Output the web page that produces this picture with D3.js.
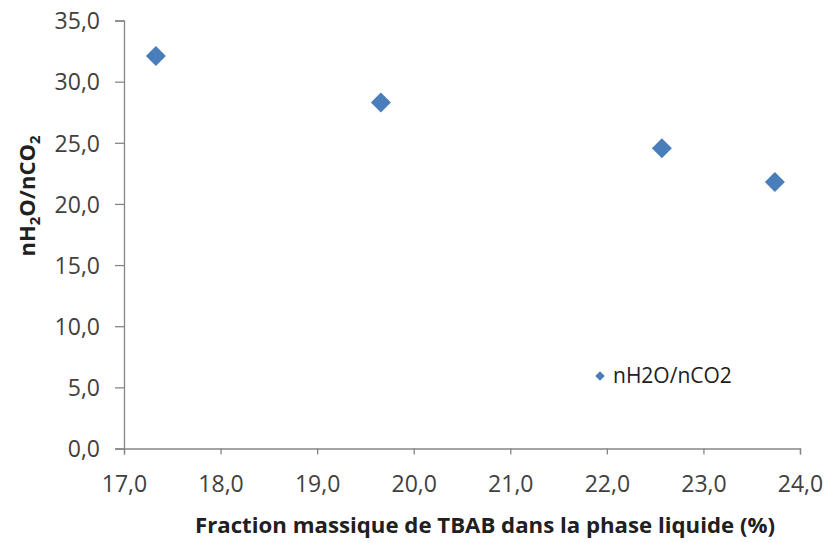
<!DOCTYPE html>
<html><head><meta charset="utf-8">
<script src="https://cdn.jsdelivr.net/npm/d3@7"></script>
<style>body{margin:0;background:#fff}svg{display:block}</style>
</head><body>
<script>
const xValues = [17.33, 19.66, 22.57, 23.74];
const yValues = [32.1, 28.3, 24.55, 21.8];
const seriesName = "nH2O/nCO2";
const xTicks = [17, 18, 19, 20, 21, 22, 23, 24];
const yTicks = [0, 5, 10, 15, 20, 25, 30, 35];
const xTitle = "Fraction massique  de TBAB dans la phase liquide (%)";

const W = 829, H = 543;
const svg = d3.select("body").append("svg").attr("width", W).attr("height", H);
const font = "'Open Sans', sans-serif";
const x = d3.scaleLinear().domain([17, 24]).range([124, 800]);
const y = d3.scaleLinear().domain([0, 35]).range([448.5, 20.5]);
const fmt = d => d.toFixed(1).replace(".", ",");

const gx = svg.append("g").attr("transform", `translate(0,${y(0)})`)
  .call(d3.axisBottom(x).tickValues(xTicks).tickFormat(fmt).tickSize(6).tickPadding(21));
const gy = svg.append("g").attr("transform", `translate(${x(17)},0)`)
  .call(d3.axisLeft(y).tickValues(yTicks).tickFormat(fmt).tickSize(9).tickPadding(15));
[gx, gy].forEach(g => {
  g.selectAll("path,line").attr("stroke", "#868686").attr("stroke-width", 1.3);
  g.selectAll("text").attr("fill", "#404040").style("font-family", font).style("font-size", "23px");
});
gy.selectAll("text").attr("dy", "0.36em");

svg.append("g").selectAll("path").data(xValues).join("path")
  .attr("transform", (d, i) => `translate(${x(d)},${y(yValues[i])}) rotate(45)`)
  .attr("d", d3.symbol().type(d3.symbolSquare).size(200))
  .attr("fill", "#4a7ebb");

// legend
svg.append("path").attr("transform", "translate(600,376) rotate(45)")
  .attr("d", d3.symbol().type(d3.symbolSquare).size(45)).attr("fill", "#4a7ebb");
svg.append("text").attr("x", 613).attr("y", 383).text(seriesName)
  .attr("fill", "#202020").style("font-family", font).style("font-size", "21px");

// axis titles
svg.append("text").attr("x", 485).attr("y", 533).attr("text-anchor", "middle")
  .attr("textLength", 580).attr("lengthAdjust", "spacingAndGlyphs")
  .style("font-family", font).style("font-size", "21px").style("font-weight", "bold")
  .attr("fill", "#202020").text(xTitle);
const yt = svg.append("text").attr("transform", "translate(35,196) rotate(-90)")
  .attr("text-anchor", "middle").style("font-family", font).style("font-size", "22px")
  .style("font-weight", "bold").attr("fill", "#202020");
yt.append("tspan").text("nH");
yt.append("tspan").text("2").attr("dy", 5).style("font-size", "15px");
yt.append("tspan").text("O/nCO").attr("dy", -5);
yt.append("tspan").text("2").attr("dy", 5).style("font-size", "15px");
</script>
</body></html>
